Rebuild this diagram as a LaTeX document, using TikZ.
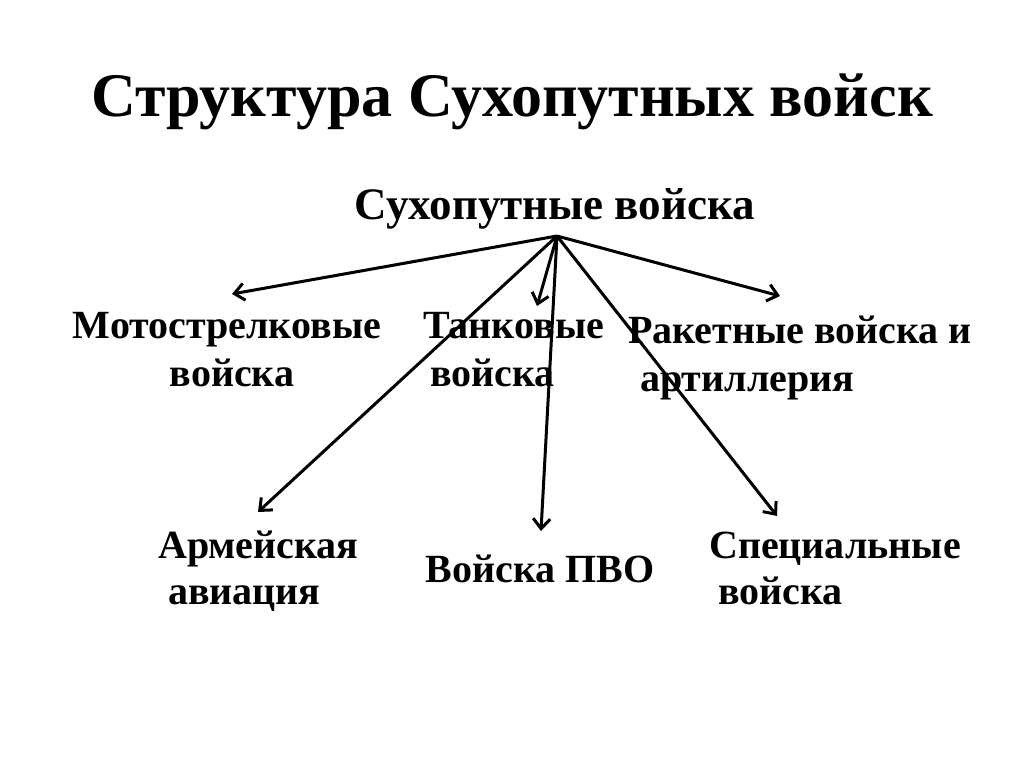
\documentclass[tikz,border=0pt]{standalone}
\usepackage{fontspec}
\setmainfont{Liberation Serif}
\usetikzlibrary{arrows.meta}
\begin{document}
\begin{tikzpicture}[x=1pt,y=-1pt,
  title/.style={font=\fontsize{62}{68}\selectfont\bfseries, inner sep=0pt},
  rootlbl/.style={font=\fontsize{45}{50}\selectfont\bfseries, inner sep=0pt},
  lbl/.style={font=\fontsize{40}{44}\selectfont\bfseries, inner sep=0pt},
  link/.style={line width=3pt, -{Straight Barb[length=10pt,width=17pt,line width=3pt]}}]
\useasboundingbox (0,0) rectangle (1024,767);
\fill[white] (0,0) rectangle (1024,767);
\node[title, anchor=base] (title) at (512,117) {Структура Сухопутных войск};
\node[rootlbl, anchor=base] (root) at (555,219) {Сухопутные войска};
\coordinate (hub) at (557,236);
% second level
\node[lbl, anchor=base] (moto1) at (227,338) {Мотострелковые};
\node[lbl, anchor=base] (moto2) at (232,386) {войска};
\node[lbl, anchor=base west] (tank1) at (423,338) {Танковые};
\node[lbl, anchor=base west] (tank2) at (430,386) {войска};
\node[lbl, anchor=base west] (rak1) at (628,343) {Ракетные войска и};
\node[lbl, anchor=base west] (rak2) at (640,391) {артиллерия};
% third level
\node[lbl, anchor=base west] (arm1) at (158,558) {Армейская};
\node[lbl, anchor=base west] (arm2) at (168,604) {авиация};
\node[lbl, anchor=base] (pvo) at (540,582) {Войска ПВО};
\node[lbl, anchor=base west] (spec1) at (709,558) {Специальные};
\node[lbl, anchor=base west] (spec2) at (718,604) {войска};
% arrow tips
\coordinate (tMoto) at (232,294);
\coordinate (tTank) at (537,306);
\coordinate (tRak) at (780,296);
\coordinate (tArm) at (258,512);
\coordinate (tPvo) at (541,531);
\coordinate (tSpec) at (777,516);
\draw[link] (hub) -- (tMoto);
\draw[link] (hub) -- (tTank);
\draw[link] (hub) -- (tRak);
\draw[link] (hub) -- (tArm);
\draw[link] (hub) -- (tPvo);
\draw[link] (hub) -- (tSpec);
\end{tikzpicture}
\end{document}
